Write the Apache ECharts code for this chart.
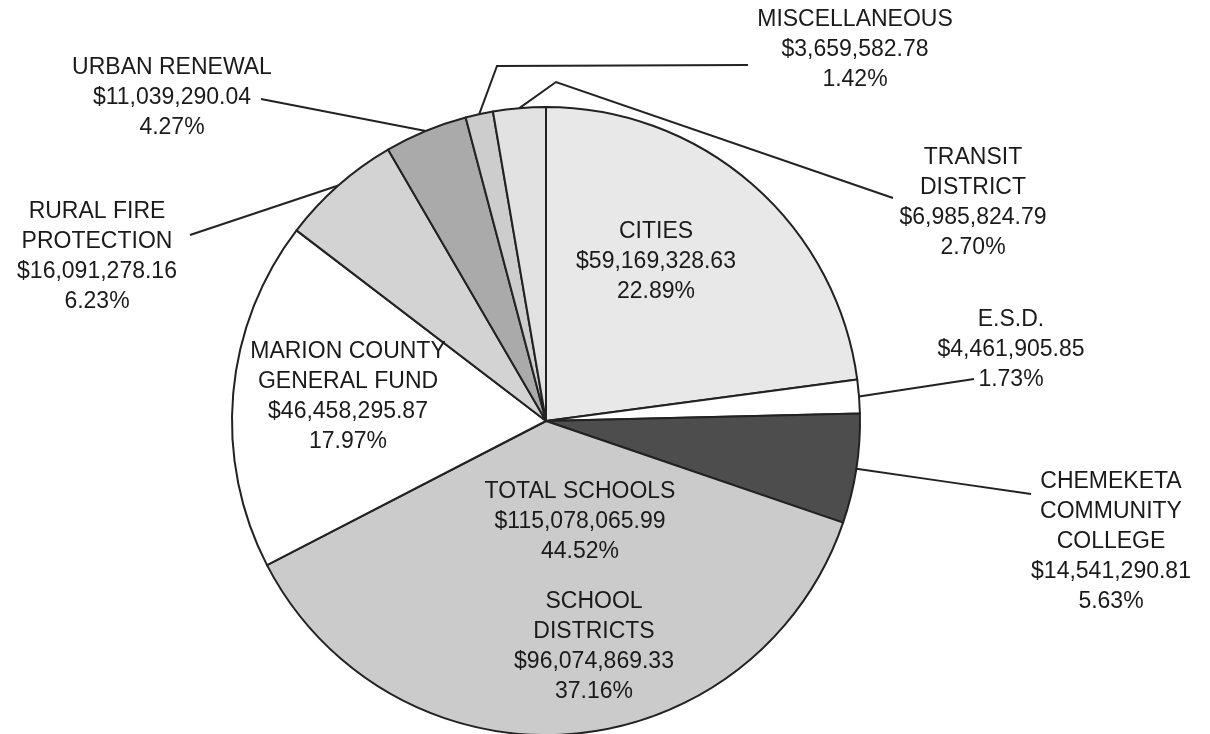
<!DOCTYPE html>
<html>
<head>
<meta charset="utf-8">
<script src="https://cdn.jsdelivr.net/npm/echarts@6/dist/echarts.min.js"></script>
<style>
  html, body { margin: 0; padding: 0; background: #fff; }
  #chart { width: 1210px; height: 734px; }
</style>
</head>
<body>
<div id="chart"></div>
<script>
// slices, clockwise from 12 o'clock
const names = ["CITIES", "E.S.D.", "CHEMEKETA\nCOMMUNITY\nCOLLEGE", "SCHOOL\nDISTRICTS",
  "MARION COUNTY\nGENERAL FUND", "RURAL FIRE\nPROTECTION", "URBAN RENEWAL", "MISCELLANEOUS", "TRANSIT\nDISTRICT"]
const amounts = [59169328.63, 4461905.85, 14541290.81, 96074869.33, 46458295.87,
  16091278.16, 11039290.04, 3659582.78, 6985824.79]
const percents = ["22.89%", "1.73%", "5.63%", "37.16%", "17.97%", "6.23%", "4.27%", "1.42%", "2.70%"]

// summary text shown inside the schools area
const totalName = "TOTAL SCHOOLS"
const totalAmount = 115078065.99
const totalPercent = "44.52%"

const colors = ["#e8e8e8", "#ffffff", "#4d4d4d", "#cbcbcb", "#ffffff", "#d3d3d3", "#aaaaaa", "#cdcdcd", "#e2e2e2"]
const inside = [true, false, false, true, true, false, false, false, false]

// label placement: [x, y] of the text block centre, leader line bend / end
const labelPos = [
  [656, 262], [1011, 350], [1111, 542], [594, 647], [348, 397],
  [97, 257], [172, 98], [855, 50], [973, 203]
]
const lineBend = [null, null, null, null, null, null, null, [497, 66], [556, 82]]
const lineEnd = [null, [974, 379], [1031, 494], null, null, [190, 235], [261, 99], [748, 65], [893, 198]]

const money = (v) => "$" + v.toLocaleString("en-US", { minimumFractionDigits: 2, maximumFractionDigits: 2 })

const myChart = echarts.init(document.getElementById("chart"))
const textStyle = { fontFamily: "Liberation Sans, Arial, sans-serif", fontSize: 23, lineHeight: 30, color: "#1a1a1a" }

myChart.setOption({
  backgroundColor: "#ffffff",
  animation: false,
  graphic: [{
    type: "text",
    x: 580,
    y: 522,
    style: {
      text: totalName + "\n" + money(totalAmount) + "\n" + totalPercent,
      fontFamily: textStyle.fontFamily,
      fontSize: 23,
      lineHeight: 30,
      fill: "#1a1a1a",
      align: "center",
      verticalAlign: "middle"
    },
    z: 100
  }],
  series: [{
    type: "pie",
    center: [546, 421],
    radius: 314,
    startAngle: 90,
    clockwise: true,
    avoidLabelOverlap: false,
    itemStyle: { borderColor: "#222", borderWidth: 2 },
    label: Object.assign({}, textStyle, {
      formatter: (p) => p.name + "\n" + money(p.value) + "\n" + percents[p.dataIndex]
    }),
    labelLine: { show: true, length: 20, length2: 20, smooth: false, lineStyle: { color: "#222", width: 2 } },
    labelLayout: (params) => {
      const i = params.dataIndex
      const res = { x: labelPos[i][0], y: labelPos[i][1], align: "center", verticalAlign: "middle" }
      if (!inside[i] && params.labelLinePoints) {
        const start = params.labelLinePoints[0]
        const end = lineEnd[i]
        const bend = lineBend[i] || [(start[0] + end[0]) / 2, (start[1] + end[1]) / 2]
        res.labelLinePoints = [start, bend, end]
      }
      return res
    },
    data: names.map((n, i) => ({
      name: n,
      value: amounts[i],
      itemStyle: { color: colors[i] },
      label: { position: inside[i] ? "inside" : "outside" },
      labelLine: { show: !inside[i] }
    }))
  }]
})
</script>
</body>
</html>
